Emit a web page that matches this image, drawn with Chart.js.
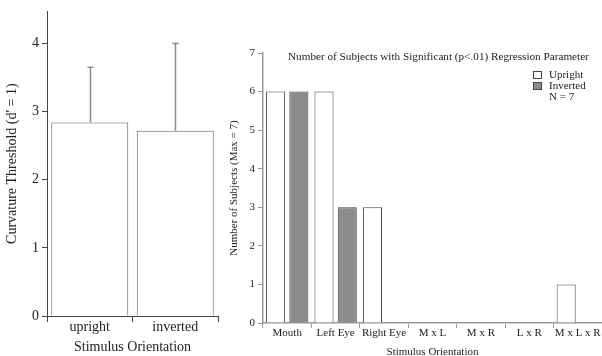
<!DOCTYPE html>
<html>
<head>
<meta charset="utf-8">
<script src="https://cdn.jsdelivr.net/npm/chart.js@4.4.1/dist/chart.umd.min.js"></script>
<style>
  body { margin: 0; background: #fff; }
  .wrap { position: relative; width: 602px; height: 356px; overflow: hidden; }
  #leftWrap { position: absolute; left: 0; top: 0; width: 225px; height: 356px; }
  #rightWrap { position: absolute; left: 222px; top: 0; width: 380px; height: 356px; }
</style>
</head>
<body>
<div class="wrap">
  <div id="leftWrap"><canvas id="thresholdChart" width="225" height="356"></canvas></div>
  <div id="rightWrap"><canvas id="subjectsChart" width="380" height="356"></canvas></div>
</div>
<script>
// left panel
const orientLabels = ['upright', 'inverted'];
const thresholdMeans = [2.84, 2.72];
const thresholdErrTop = [3.65, 4.0];

// right panel
const paramLabels = ['Mouth', 'Left Eye', 'Right Eye', 'M x L', 'M x R', 'L x R', 'M x L x R'];
const uprightCounts = [6, 6, 3, 0, 0, 0, 1];
const invertedCounts = [6, 3, 0, 0, 0, 0, 0];
const legendNames = ['Upright', 'Inverted'];
const legendNote = 'N = 7';
const rightTitle = 'Number of Subjects with Significant (p<.01) Regression Parameter';

const serif = "'Liberation Serif', 'Times New Roman', serif";
Chart.defaults.font.family = serif;
Chart.defaults.color = '#222';

// error bars (upward only) drawn from the data arrays
const errorBars = {
  id: 'errorBars',
  afterDatasetsDraw(chart) {
    const ctx = chart.ctx;
    const meta = chart.getDatasetMeta(0);
    const ys = chart.scales.y;
    ctx.save();
    ctx.strokeStyle = '#8a8a8a';
    ctx.lineWidth = 1.5;
    meta.data.forEach(function (bar, i) {
      const x = Math.round(bar.x) + 0.5;
      const yTop = ys.getPixelForValue(thresholdErrTop[i]);
      ctx.beginPath();
      ctx.moveTo(x, bar.y);
      ctx.lineTo(x, yTop);
      ctx.moveTo(x - 3, yTop);
      ctx.lineTo(x + 3, yTop);
      ctx.stroke();
    });
    ctx.restore();
  }
};

new Chart(document.getElementById('thresholdChart'), {
  type: 'bar',
  data: {
    labels: orientLabels,
    datasets: [{
      data: thresholdMeans,
      backgroundColor: '#fff',
      borderColor: '#666',
      borderWidth: 1,
      barPercentage: 0.9,
      categoryPercentage: 1.0
    }]
  },
  options: {
    responsive: false,
    animation: false,
    layout: { padding: { top: 10, right: 7, left: 0, bottom: 0 } },
    plugins: { legend: { display: false }, tooltip: { enabled: false } },
    scales: {
      x: {
        afterFit: function (scale) { scale.height = 40; },
        grid: { drawOnChartArea: false, tickLength: 6, color: '#444' },
        border: { color: '#444', width: 1 },
        ticks: { font: { size: 14 }, color: '#222', padding: -3 },
        title: { display: true, text: 'Stimulus Orientation', font: { size: 14 }, color: '#222', padding: 0 }
      },
      y: {
        min: 0,
        max: 4.47,
        afterFit: function (scale) { scale.width = 47; },
        grid: { drawOnChartArea: false, tickLength: 5, color: '#444' },
        border: { color: '#444', width: 1 },
        ticks: { stepSize: 1, includeBounds: false, font: { size: 14 }, color: '#222', padding: 3 },
        title: { display: true, text: "Curvature Threshold (d' = 1)", font: { size: 14 }, color: '#222', padding: { top: 4, bottom: 4 } }
      }
    }
  },
  plugins: [errorBars]
});

// title and legend inside the plot area
const subjectsDecor = {
  id: 'subjectsDecor',
  afterDraw(chart) {
    const ctx = chart.ctx;
    ctx.save();
    ctx.font = '11.2px ' + serif;
    ctx.fillStyle = '#222';
    ctx.textBaseline = 'middle';
    ctx.textAlign = 'left';
    ctx.fillText(rightTitle, 66, 57);
    ctx.font = '11px ' + serif;
    const fills = [chart.data.datasets[0].backgroundColor, chart.data.datasets[1].backgroundColor];
    legendNames.forEach(function (name, i) {
      const y = 75 + i * 11;
      ctx.fillStyle = fills[i];
      ctx.fillRect(311.5, y - 3.5, 8, 7);
      ctx.strokeStyle = '#444';
      ctx.lineWidth = 1;
      ctx.strokeRect(311.5, y - 3.5, 8, 7);
      ctx.fillStyle = '#222';
      ctx.fillText(name, 327, y);
    });
    ctx.fillText(legendNote, 327, 97);
    ctx.restore();
  }
};

new Chart(document.getElementById('subjectsChart'), {
  type: 'bar',
  data: {
    labels: paramLabels,
    datasets: [
      { label: legendNames[0], data: uprightCounts, backgroundColor: '#fff', borderColor: '#444', borderWidth: 1 },
      { label: legendNames[1], data: invertedCounts, backgroundColor: '#8c8c8c', borderColor: '#444', borderWidth: 1 }
    ]
  },
  options: {
    responsive: false,
    animation: false,
    datasets: { bar: { barPercentage: 0.82, categoryPercentage: 0.96 } },
    layout: { padding: { top: 53, right: 0, left: 0, bottom: 0 } },
    plugins: { legend: { display: false }, tooltip: { enabled: false } },
    scales: {
      x: {
        afterFit: function (scale) { scale.height = 33; },
        grid: { drawOnChartArea: false, tickLength: 5, color: '#999' },
        border: { color: '#999', width: 1.5 },
        ticks: { font: { size: 11 }, color: '#222', padding: -1, maxRotation: 0, autoSkip: false },
        title: { display: true, text: 'Stimulus Orientation', font: { size: 11 }, color: '#222', padding: { top: 0, bottom: -3 } }
      },
      y: {
        min: 0,
        max: 7,
        afterFit: function (scale) { scale.width = 41; },
        grid: { drawOnChartArea: false, tickLength: 5, color: '#999' },
        border: { color: '#999', width: 1.5 },
        ticks: { stepSize: 1, font: { size: 11 }, color: '#222', padding: 3 },
        title: { display: true, text: 'Number of Subjects (Max = 7)', font: { size: 11 }, color: '#222', padding: { top: 6, bottom: 4 } }
      }
    }
  },
  plugins: [subjectsDecor]
});
</script>
</body>
</html>
